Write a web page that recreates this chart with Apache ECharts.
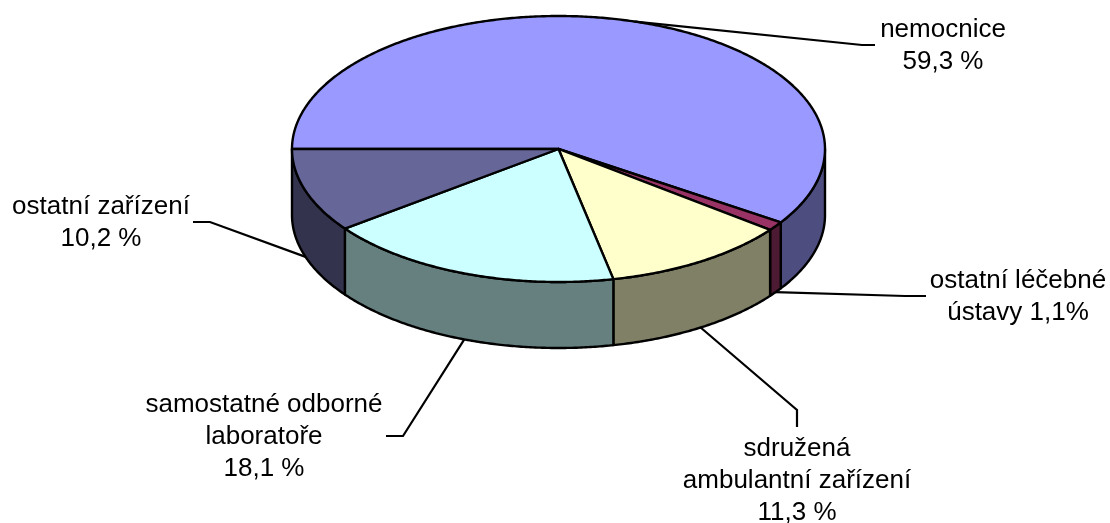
<!DOCTYPE html>
<html>
<head>
<meta charset="utf-8">
<script src="https://cdn.jsdelivr.net/npm/echarts@6/dist/echarts.min.js"></script>
<style>
html, body { margin: 0; padding: 0; background: #fff; }
#chart { width: 1110px; height: 523px; }
</style>
</head>
<body>
<div id="chart"></div>
<script>
// poradi dilku od leve strany po smeru hodinovych rucicek
const categories = ['nemocnice', 'ostatní léčebné ústavy', 'sdružená ambulantní zařízení', 'samostatné odborné laboratoře', 'ostatní zařízení']
const shares = [59.3, 1.1, 11.3, 18.1, 10.2]
const labels = ['nemocnice\n59,3 %', 'ostatní léčebné\nústavy 1,1%', 'sdružená\nambulantní zařízení\n11,3 %', 'samostatné odborné\nlaboratoře\n18,1 %', 'ostatní zařízení\n10,2 %']
const topColors = ['#9999ff', '#993366', '#ffffcc', '#ccffff', '#666699']
const wallColors = ['#4d4d80', '#4d1a33', '#808066', '#668080', '#33334d']

// layout of the drawing, pixels
const pie = { cx: 558.5, cy: 149, rx: 266.5, ry: 133, depth: 66, startAngle: 180 }
const labelPos = [[943, 46], [1018, 297], [797, 481], [264, 437], [101, 223]]
const leaderBends = [[[862, 45], [875, 45]], [[905, 296], [926, 296]], [[797, 410], [797, 427]], [[403, 436], [386, 436]], [[210, 222], [193, 222]]]

const total = shares.reduce((a, b) => a + b, 0)
const edge = (deg, drop) => {
    const r = deg * Math.PI / 180
    return [pie.cx + pie.rx * Math.cos(r), pie.cy + pie.ry * Math.sin(r) + drop]
}
const arc = (from, to, drop) => {
    const pts = []
    const n = Math.max(2, Math.ceil(Math.abs(to - from) * 2))
    for (let i = 0; i <= n; i++) pts.push(edge(from + (to - from) * i / n, drop))
    return pts
}

function renderSlice(params, api) {
    const i = params.dataIndex
    const before = shares.slice(0, i).reduce((a, b) => a + b, 0)
    const from = pie.startAngle + before / total * 360
    const to = from + api.value(0) / total * 360
    const mid = (from + to) / 2
    const line = { stroke: '#000', lineWidth: 2.4, lineJoin: 'round' }
    const children = []

    // only the front half of the rim can be seen
    ;[[0, 180], [360, 540]].forEach(([a, b]) => {
        const s = Math.max(from, a), e = Math.min(to, b)
        if (s < e) {
            children.push({
                type: 'polygon', z2: 1,
                shape: { points: arc(s, e, 0).concat(arc(e, s, pie.depth)) },
                style: Object.assign({ fill: wallColors[i] }, line)
            })
        }
    })
    children.push({
        type: 'polygon', z2: 2,
        shape: { points: [[pie.cx, pie.cy]].concat(arc(from, to, 0)) },
        style: Object.assign({ fill: topColors[i] }, line)
    })

    // leader starts on the visible edge in the middle of the slice
    const onFront = Math.sin(mid * Math.PI / 180) > 0
    children.push({
        type: 'polyline', z2: 3,
        shape: { points: [edge(mid, onFront ? pie.depth : 0)].concat(leaderBends[i]) },
        style: { stroke: '#000', lineWidth: 2.2, fill: null }
    })
    children.push({
        type: 'text', z2: 4,
        style: {
            x: labelPos[i][0], y: labelPos[i][1],
            text: labels[i],
            align: 'center', verticalAlign: 'middle',
            fontFamily: '"Liberation Sans", Arial, sans-serif',
            fontSize: 26, lineHeight: 32, fill: '#000'
        }
    })
    return { type: 'group', children }
}

const myChart = echarts.init(document.getElementById('chart'), null, { renderer: 'canvas' })
myChart.setOption({
    animation: false,
    backgroundColor: '#fff',
    series: [{
        type: 'custom',
        coordinateSystem: 'none',
        renderItem: renderSlice,
        silent: true,
        data: shares.map((v, i) => ({ name: categories[i], value: [v] }))
    }]
})
</script>
</body>
</html>
